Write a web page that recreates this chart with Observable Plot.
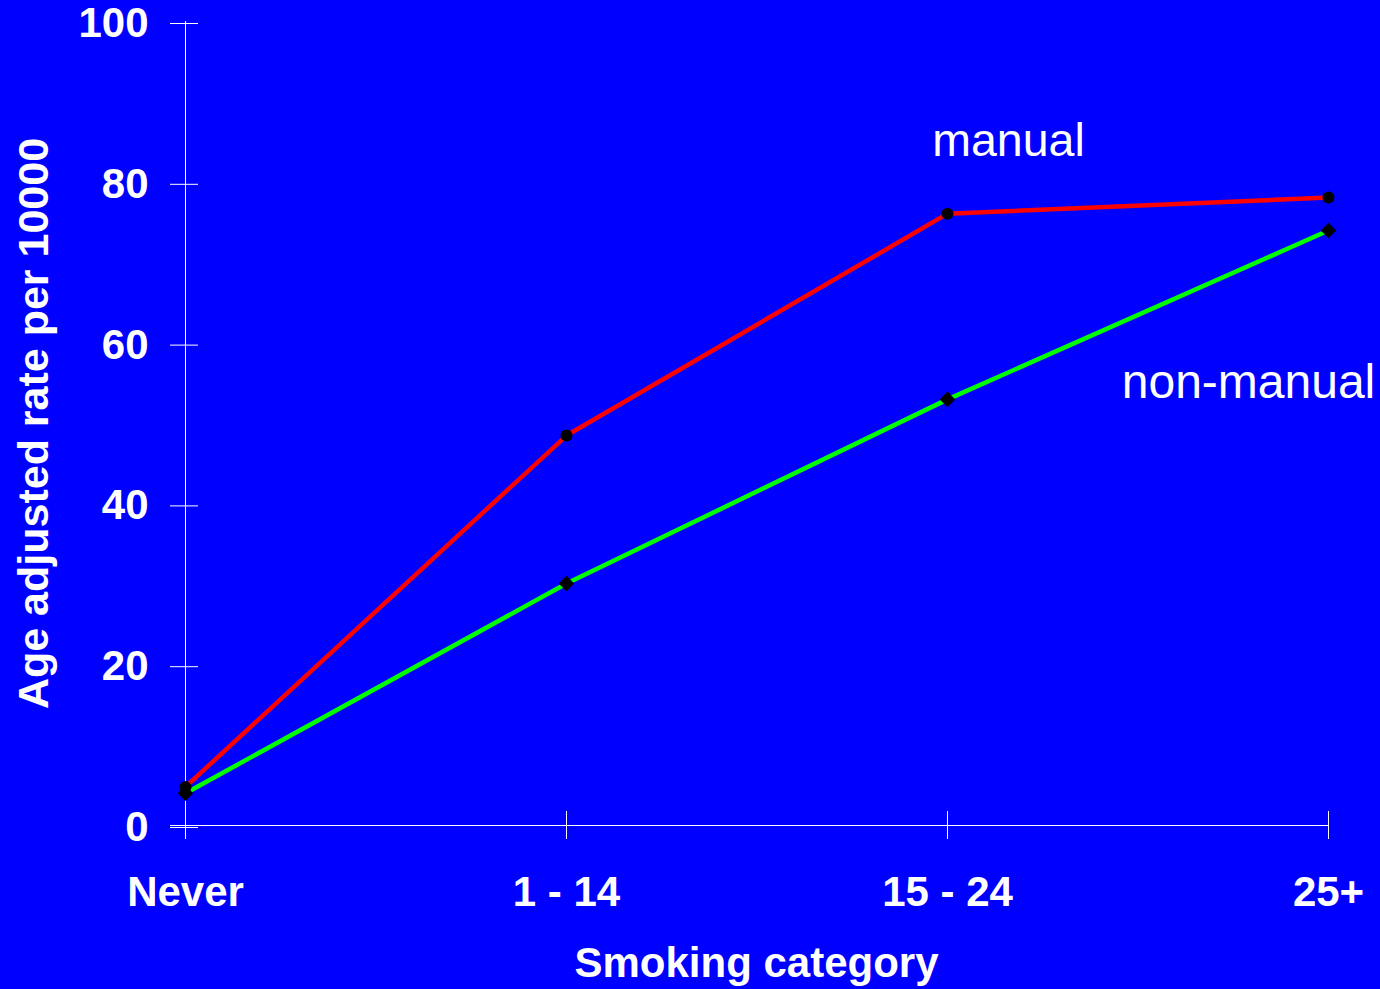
<!DOCTYPE html>
<html>
<head>
<meta charset="utf-8">
<script src="https://cdn.jsdelivr.net/npm/d3@7"></script>
<script src="https://cdn.jsdelivr.net/npm/@observablehq/plot@0.6"></script>
<style>
  html, body { margin: 0; padding: 0; background: #0000ff; }
  svg { display: block; }
</style>
</head>
<body>
<div id="chart"></div>
<script>
const categories = ["Never", "1 - 14", "15 - 24", "25+"];
const manual = [4.8, 48.5, 76.1, 78.1];
const nonManual = [4.0, 30.1, 53.0, 74.0];
const yTicks = [0, 20, 40, 60, 80, 100];
const seriesLabels = ["manual", "non-manual"];
const xTitle = "Smoking category";
const yTitle = "Age adjusted rate per 10000";

const manualData = categories.map((c, i) => ({cat: c, v: manual[i]}));
const nonManualData = categories.map((c, i) => ({cat: c, v: nonManual[i]}));

const font = "Arial, 'Liberation Sans', sans-serif";

const chart = Plot.plot({
  width: 1380,
  height: 989,
  marginLeft: 184,
  marginRight: 52,
  marginTop: 21,
  marginBottom: 164,
  style: {background: "#0000ff", color: "white", fontFamily: font, fontSize: "41px", fontWeight: "bold"},
  x: {type: "point", domain: categories, padding: 0},
  y: {domain: [0, 100]},
  marks: [
    Plot.ruleY([0], {stroke: "white", strokeWidth: 1, insetLeft: -14}),
    Plot.ruleX([categories[0]], {stroke: "white", strokeWidth: 1, insetBottom: -14}),
    Plot.axisY(yTicks, {tickSize: 28, dx: 14, tickPadding: 22, label: null, stroke: "white", strokeWidth: 1, fill: "white", fontSize: 42, fontWeight: "bold", dy: 2}),
    Plot.axisX(categories, {tickSize: 28, dy: -14, tickPadding: 37, label: null, stroke: "white", strokeWidth: 1, fill: "white", fontSize: 42, fontWeight: "bold"}),
    Plot.line(manualData, {x: "cat", y: "v", stroke: "#ff0000", strokeWidth: 4.5}),
    Plot.line(nonManualData, {x: "cat", y: "v", stroke: "#00ff00", strokeWidth: 4.5}),
    Plot.dot(manualData, {x: "cat", y: "v", r: 6, fill: "black", symbol: "circle"}),
    Plot.dot(nonManualData, {x: "cat", y: "v", r: 7, fill: "black", symbol: "diamond2"}),
    Plot.text([seriesLabels[0]], {x: () => "15 - 24", y: () => 85.1, dx: 61, fill: "white", fontSize: 46.5, fontWeight: "normal", textAnchor: "middle"}),
    Plot.text([seriesLabels[1]], {x: () => "25+", y: () => 55.1, dx: -80, fill: "white", fontSize: 48, fontWeight: "normal", textAnchor: "middle"}),
    Plot.text([xTitle], {frameAnchor: "bottom", dy: 138, fill: "white", fontSize: 42, fontWeight: "bold", textAnchor: "middle", lineAnchor: "middle"}),
    Plot.text([yTitle], {frameAnchor: "left", dx: -150, rotate: -90, fill: "white", fontSize: 43, fontWeight: "bold", textAnchor: "middle", lineAnchor: "middle"})
  ]
});
document.getElementById("chart").appendChild(chart);
</script>
</body>
</html>
